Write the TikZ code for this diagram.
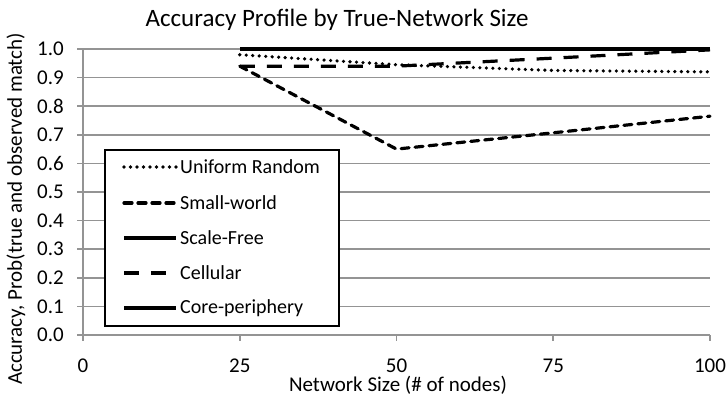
\documentclass[tikz,border=0pt]{standalone}
\usepackage{fontspec}
\setmainfont{Carlito}
\usetikzlibrary{calc}
\begin{document}
\begin{tikzpicture}[x=1pt,y=1pt,
  grid/.style={draw=black!42,line width=1.6pt},
  tick/.style={draw=black!42,line width=1.6pt},
  lab/.style={font=\fontsize{21}{24}\selectfont,inner sep=0pt},
  leglab/.style={font=\fontsize{20}{23}\selectfont,inner sep=0pt},
  ser/.style={line width=3.2pt,black},
  urand/.style={ser,line width=3.6pt,dash pattern=on 0pt off 6.5pt,line cap=round},
  sworld/.style={ser,dash pattern=on 8pt off 6pt,line cap=round},
  solidser/.style={ser},
  cell/.style={ser,dash pattern=on 15pt off 12pt},
]
\useasboundingbox (0,0) rectangle (727,397);
\fill[white] (0,0) rectangle (727,397);
% title
\node[lab,font=\fontsize{25}{28}\selectfont,anchor=base] (title) at (337,370) {Accuracy Profile by True-Network Size};
\node[lab,anchor=base] (xlab) at (398,5.5) {Network Size (\# of nodes)};
\node[lab,rotate=90] (ylab) at (16,188) {Accuracy, Prob(true and observed match)};
\begin{scope}[shift={(83,62)},x=6.27pt,y=286pt]
  % gridlines
  \foreach \a in {0.1,0.2,...,1.01} {
    \draw[grid] (0,\a) -- (100,\a);
    \draw[tick] (0,\a) -- ++(-6pt,0);
  }
  \draw[tick] (0,0) -- ++(-6pt,0);
  \draw[grid] (0,0) -- (0,1);
  \draw[grid] (0,0) -- (100,0);
  \foreach \x in {0,25,50,75,100} {
    \draw[tick] (\x,0) -- ++(0,-6pt);
    \node[lab,anchor=base] (xt\x) at ($(\x,0)+(0,-37.5pt)$) {\x};
  }
  \foreach \a/\t in {0/0.0,0.1/0.1,0.2/0.2,0.3/0.3,0.4/0.4,0.5/0.5,0.6/0.6,0.7/0.7,0.8/0.8,0.9/0.9,1/1.0} {
    \node[lab,anchor=east] (yt\t) at ($(0,\a)+(-19pt,0)$) {\t};
  }
  % series
  \draw[cell] (25,0.94) -- (50,0.94) -- (75,0.968) -- (100,0.997);
  \draw[urand] (25,0.98) -- (50,0.945) -- (75,0.925) -- (100,0.92);
  \draw[sworld] (25,0.94) -- (50,0.65) -- (75,0.707) -- (100,0.765);
  \draw[solidser] (25,1) -- (50,1) -- (75,1) -- (100,1);
\end{scope}
% legend
\draw[line width=1.2pt,fill=white] (105,247) rectangle (339,71);
\foreach \yy/\st/\txt [count=\i] in {230/urand/Uniform Random,194/sworld/Small-world,159/solidser/Scale-Free,124/cell/Cellular,89/solidser/Core-periphery} {
  \coordinate (ls\i) at (124,\yy);
  \coordinate (le\i) at (176,\yy);
  \draw[\st] (ls\i) -- (le\i);
  \node[leglab,anchor=west] (lt\i) at (180,\yy) {\txt};
}
\end{tikzpicture}
\end{document}
